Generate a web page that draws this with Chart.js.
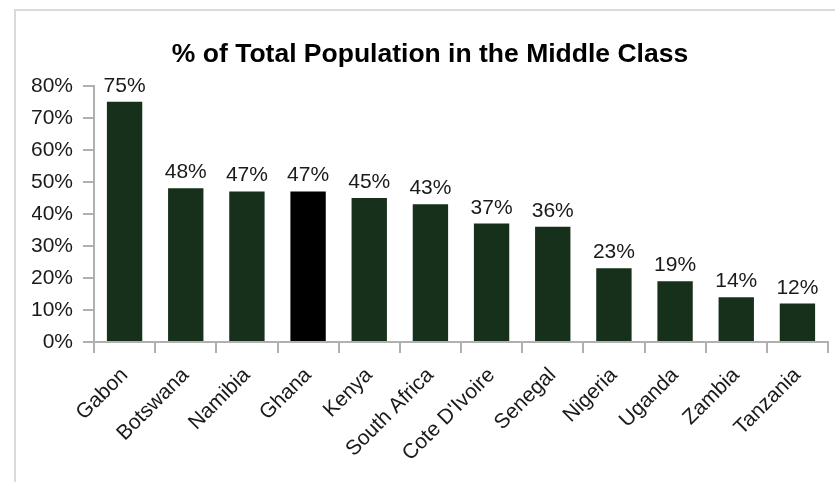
<!DOCTYPE html>
<html>
<head>
<meta charset="utf-8">
<script src="https://cdn.jsdelivr.net/npm/chart.js@4/dist/chart.umd.min.js"></script>
<style>
    html, body { margin: 0; padding: 0; background: #fff; overflow: hidden; }
    #frame {
        position: absolute; left: 14px; top: 9px; width: 900px; height: 600px;
        border: 2px solid #dadada; box-sizing: border-box;
    }
    #wrap { position: absolute; left: 0; top: 0; width: 835px; height: 482px; }
</style>
</head>
<body>
<div id="frame"></div>
<div id="wrap"><canvas id="middleClassChart" width="835" height="482"></canvas></div>
<script>
// Chart data
const countries = ['Gabon', 'Botswana', 'Namibia', 'Ghana', 'Kenya', 'South Africa',
    'Cote D\'Ivoire', 'Senegal', 'Nigeria', 'Uganda', 'Zambia', 'Tanzania'];
const middleClassShare = [75, 48, 47, 47, 45, 43, 37, 36, 23, 19, 14, 12];
const yTicks = [0, 10, 20, 30, 40, 50, 60, 70, 80];

const barColor = '#17301b';
const highlightColor = '#000000';
const axisColor = '#b0b0b0';
const textColor = '#1a1a1a';
const fontFamily = '"Liberation Sans", Arial, sans-serif';

// Value labels above bars
const valueLabels = {
    id: 'valueLabels',
    afterDatasetsDraw(chart) {
        const ctx = chart.ctx;
        const meta = chart.getDatasetMeta(0);
        ctx.save();
        ctx.font = '21px ' + fontFamily;
        ctx.fillStyle = textColor;
        ctx.textAlign = 'center';
        ctx.textBaseline = 'alphabetic';
        meta.data.forEach((bar, i) => {
            ctx.fillText(middleClassShare[i] + '%', bar.x, bar.y - 10);
        });
        ctx.restore();
    }
};

const ctx = document.getElementById('middleClassChart').getContext('2d');
new Chart(ctx, {
    type: 'bar',
    data: {
        labels: countries,
        datasets: [{
            data: middleClassShare,
            backgroundColor: countries.map(c => c === 'Ghana' ? highlightColor : barColor),
            borderWidth: 0,
            barPercentage: 0.578,
            categoryPercentage: 1
        }]
    },
    options: {
        responsive: false,
        animation: false,
        // left padding keeps the title centred on the frame
        layout: { padding: { left: 32, right: 7, top: 0, bottom: 0 } },
        plugins: {
            legend: { display: false },
            tooltip: { enabled: false },
            title: {
                display: true,
                text: '% of Total Population in the Middle Class',
                color: '#000',
                font: { family: fontFamily, size: 26.5, weight: 'bold' },
                padding: { top: 39, bottom: 15 }
            }
        },
        scales: {
            y: {
                min: 0,
                max: 80,
                afterBuildTicks: scale => { scale.ticks = yTicks.map(v => ({ value: v })); },
                afterFit: scale => { scale.width = 62; },
                ticks: {
                    color: textColor,
                    padding: 10,
                    font: { family: fontFamily, size: 21 },
                    callback: value => value + '%'
                },
                grid: {
                    drawOnChartArea: false,
                    drawTicks: true,
                    tickLength: 11,
                    color: axisColor,
                    lineWidth: 2
                },
                border: { display: true, color: axisColor, width: 2 }
            },
            x: {
                afterFit: scale => { scale.height = 140; },
                ticks: {
                    color: textColor,
                    autoSkip: false,
                    minRotation: 45,
                    maxRotation: 45,
                    padding: 10,
                    font: { family: fontFamily, size: 21 }
                },
                grid: {
                    offset: true,
                    drawOnChartArea: false,
                    drawTicks: true,
                    tickLength: 11,
                    color: axisColor,
                    lineWidth: 2
                },
                border: { display: true, color: axisColor, width: 2 }
            }
        }
    },
    plugins: [valueLabels]
});
</script>
</body>
</html>
